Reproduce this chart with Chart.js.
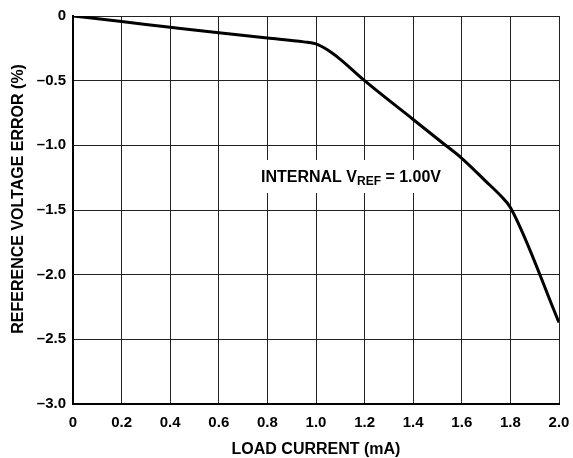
<!DOCTYPE html>
<html><head><meta charset="utf-8">
<script src="https://cdn.jsdelivr.net/npm/chart.js@4/dist/chart.umd.min.js"></script>
<style>html,body{margin:0;padding:0;background:#fff}#wrap{width:573px;height:458px}</style>
</head><body><div id="wrap"><canvas id="c" width="573" height="458"></canvas></div>
<script>
const loadCurrent = [0, 0.2, 0.4, 0.6, 0.8, 0.95, 1.0, 1.05, 1.1, 1.2, 1.4, 1.52, 1.6, 1.7, 1.76, 1.8, 2.0];
const refError    = [0, -0.043, -0.087, -0.13, -0.17, -0.2, -0.215, -0.265, -0.335, -0.5, -0.8, -0.98, -1.1, -1.28, -1.39, -1.48, -2.37];
const xTicks = [0, 0.2, 0.4, 0.6, 0.8, 1.0, 1.2, 1.4, 1.6, 1.8, 2.0];
const yTicks = [0, -0.5, -1.0, -1.5, -2.0, -2.5, -3.0];
const annotation = {x: 1.144, y: -1.237, main: 'INTERNAL V', sub: 'REF', tail: ' = 1.00V'};

const FONT = 'Liberation Sans, Arial, Helvetica, sans-serif';

const labelPlugin = {
  id: 'label',
  beforeDatasetsDraw(chart) {
    const ctx = chart.ctx;
    const xs = chart.scales.x, ys = chart.scales.y;
    const cx = xs.getPixelForValue(annotation.x), cy = ys.getPixelForValue(annotation.y);
    ctx.save();
    ctx.font = 'bold 16px ' + FONT;
    const w1 = ctx.measureText(annotation.main).width;
    const w3 = ctx.measureText(annotation.tail).width;
    ctx.font = 'bold 12px ' + FONT;
    const w2 = ctx.measureText(annotation.sub).width;
    const total = w1 + w2 + w3;
    ctx.fillStyle = '#fff';
    ctx.fillRect(cx - total/2 - 4, cy - 16, total + 8, 33);
    let x0 = cx - total/2;
    ctx.fillStyle = '#000';
    ctx.textBaseline = 'alphabetic';
    ctx.textAlign = 'left';
    ctx.font = 'bold 16px ' + FONT;
    ctx.fillText(annotation.main, x0, cy + 6);
    ctx.font = 'bold 12px ' + FONT;
    ctx.fillText(annotation.sub, x0 + w1, cy + 9);
    ctx.font = 'bold 16px ' + FONT;
    ctx.fillText(annotation.tail, x0 + w1 + w2, cy + 6);
    ctx.restore();
  }
};

new Chart(document.getElementById('c'), {
  type: 'scatter',
  data: {
    datasets: [{
      data: loadCurrent.map((x, i) => ({x, y: refError[i]})),
      showLine: true,
      borderColor: '#000',
      borderWidth: 3,
      pointRadius: 0,
      cubicInterpolationMode: 'monotone',
      fill: false
    }]
  },
  options: {
    responsive: false,
    animation: false,
    plugins: {legend: {display: false}, tooltip: {enabled: false}},
    layout: {padding: {top: 16, right: 14, left: 0, bottom: 0}},
    scales: {
      x: {
        type: 'linear', min: 0, max: 2.0,
        afterBuildTicks: s => { s.ticks = xTicks.map(v => ({value: v})); },
        afterFit: s => { s.height = 54; s.paddingLeft = 0; s.paddingRight = 0; },
        border: {color: '#000', width: 2},
        grid: {color: '#222', lineWidth: 1, drawTicks: false},
        ticks: {
          color: '#000', padding: 10,
          font: {family: FONT, weight: 'bold', size: 15},
          callback: v => v === 0 ? '0' : v.toFixed(1)
        },
        title: {display: true, text: 'LOAD CURRENT (mA)', color: '#000',
          font: {family: FONT, weight: 'bold', size: 16, lineHeight: 1}, padding: {top: 0, bottom: 0}}
      },
      y: {
        type: 'linear', min: -3.0, max: 0,
        afterBuildTicks: s => { s.ticks = yTicks.map(v => ({value: v})); },
        afterFit: s => { s.width = 73; s.paddingTop = 0; s.paddingBottom = 0; },
        border: {color: '#000', width: 2},
        grid: {color: '#222', lineWidth: 1, drawTicks: false},
        ticks: {
          color: '#000', padding: 7,
          font: {family: FONT, weight: 'bold', size: 15},
          callback: v => v === 0 ? '0' : '\u2013' + Math.abs(v).toFixed(1)
        },
        title: {display: true, text: '     REFERENCE VOLTAGE ERROR (%)', color: '#000',
          font: {family: FONT, weight: 'bold', size: 16, lineHeight: 1}, padding: {top: 11, bottom: 0}}
      }
    }
  },
  plugins: [labelPlugin]
});
</script></body></html>
